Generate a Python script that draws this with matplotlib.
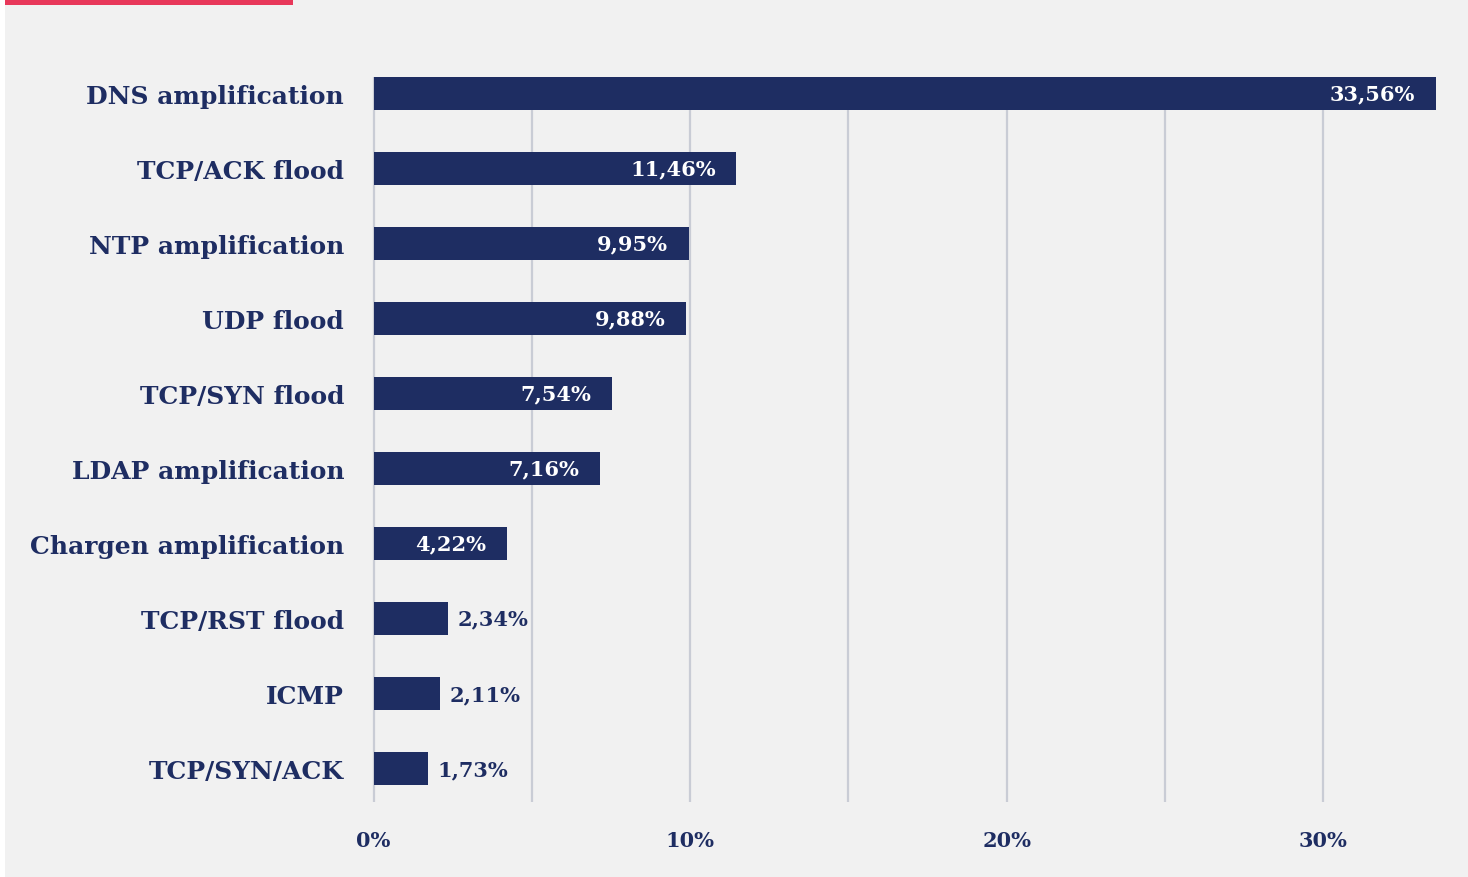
import matplotlib.pyplot as plt
from matplotlib.patches import Rectangle
from matplotlib.ticker import FixedLocator

attacks = ["DNS amplification", "TCP/ACK flood", "NTP amplification", "UDP flood",
           "TCP/SYN flood", "LDAP amplification", "Chargen amplification",
           "TCP/RST flood", "ICMP", "TCP/SYN/ACK"]
shares = [33.56, 11.46, 9.95, 9.88, 7.54, 7.16, 4.22, 2.34, 2.11, 1.73]
tick_values = [0, 10, 20, 30]
tick_labels = ["0%", "10%", "20%", "30%"]

navy = "#1e2d62"
bg = "#f1f1f1"
grid_col = "#c9ccd5"
serif = "DejaVu Serif"

W, H = 1468, 878
fig = plt.figure(figsize=(W / 100, H / 100), dpi=100, facecolor="white")
fig.patches.append(Rectangle((5 / W, 0), 1, 1, transform=fig.transFigure,
                             facecolor=bg, edgecolor="none", zorder=-10))
# header strip at the top left
fig.patches.append(Rectangle((5 / W, 1 - 6 / H), 288 / W, 6 / H, transform=fig.transFigure,
                             facecolor="#e8385a", edgecolor="none", zorder=-5))

bar_h = 0.44
ax_left, ax_right = 372 / W, (372 + 34 * 31.7) / W
ax_top, ax_bot = 1 - 78 / H, 1 - 803 / H
ax = fig.add_axes([ax_left, ax_bot, ax_right - ax_left, ax_top - ax_bot])
ax.set_facecolor("none")

pos = list(range(len(attacks)))
ax.barh(pos, shares, height=bar_h, color=navy, zorder=3)
ax.set_xlim(-0.05, 34)
ax.set_ylim(len(attacks) - 1 + bar_h, -bar_h / 2)

for y, v in zip(pos, shares):
    txt = f"{v:.2f}".replace(".", ",") + "%"
    if v > 4:
        ax.text(v - 0.65, y, txt, ha="right", va="center", color="white",
                fontsize=15, fontweight="bold", family=serif, zorder=4)
    else:
        ax.text(v + 0.3, y, txt, ha="left", va="center", color=navy,
                fontsize=15, fontweight="bold", family=serif, zorder=4)

ax.set_yticks(pos)
ax.set_yticklabels(attacks, fontsize=18, fontweight="bold", family=serif, color=navy)
ax.xaxis.set_major_locator(FixedLocator(tick_values))
ax.xaxis.set_minor_locator(FixedLocator([5, 15, 25]))
ax.set_xticklabels(tick_labels, fontsize=15, fontweight="bold", family=serif, color=navy)
ax.tick_params(axis="y", length=0, pad=20)
ax.tick_params(axis="x", which="both", length=0, pad=20)
ax.grid(axis="x", which="both", color=grid_col, linewidth=1.6, zorder=0)
ax.grid(axis="y", visible=False)
for s in ax.spines.values():
    s.set_visible(False)

fig.savefig("out.png", dpi=100, facecolor=fig.get_facecolor())
